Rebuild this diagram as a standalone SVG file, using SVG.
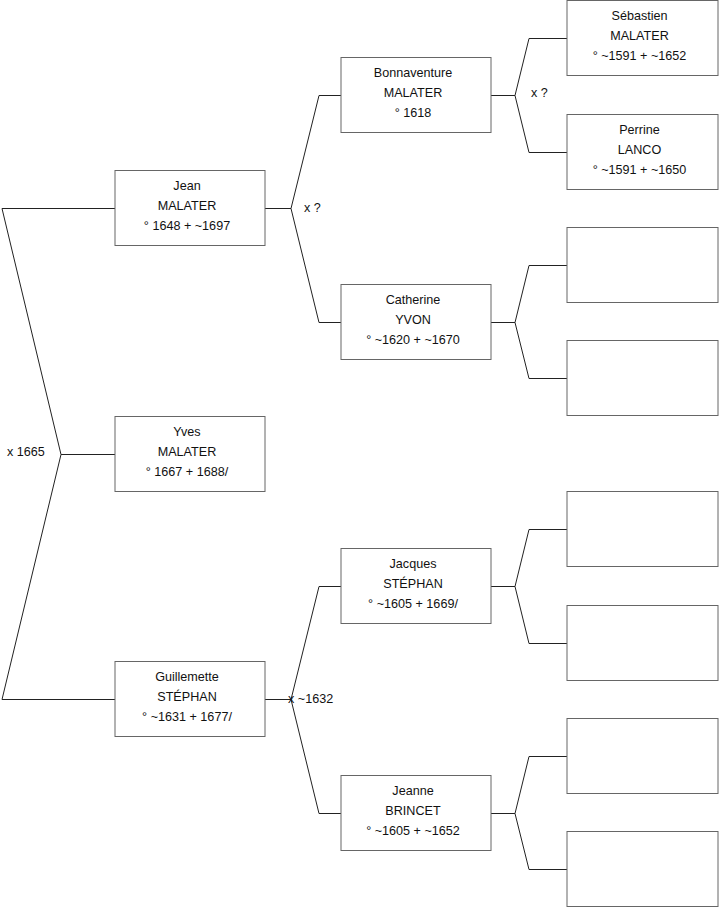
<svg xmlns="http://www.w3.org/2000/svg" width="719" height="908" viewBox="0 0 719 908">
<style>
.box{fill:#fff;stroke:#666;stroke-width:1}
.t{font-family:"Liberation Sans",Arial,sans-serif;font-size:12.6px;fill:#111;text-anchor:middle}
.l{font-family:"Liberation Sans",Arial,sans-serif;font-size:12.6px;fill:#111}
.c{fill:none;stroke:#222;stroke-width:1}
</style>
<rect width="719" height="908" fill="#fff"/>
<g id="connectors">
<polyline class="c" points="115,208.5 2,208.5 61,454.5 2,699.5 115,699.5"/>
<line class="c" x1="61" y1="454.5" x2="115" y2="454.5"/>
<polyline class="c" points="341,95.5 319,95.5 291,208.5 319,322.5 341,322.5"/>
<line class="c" x1="265" y1="208.5" x2="291" y2="208.5"/>
<polyline class="c" points="341,586.5 319,586.5 291,699.5 319,813.5 341,813.5"/>
<line class="c" x1="265" y1="699.5" x2="291" y2="699.5"/>
<polyline class="c" points="567,38.5 529,38.5 515,95.5 529,152.5 567,152.5"/>
<line class="c" x1="491" y1="95.5" x2="515" y2="95.5"/>
<polyline class="c" points="567,265.5 529,265.5 515,322.5 529,378.5 567,378.5"/>
<line class="c" x1="491" y1="322.5" x2="515" y2="322.5"/>
<polyline class="c" points="567,529.5 529,529.5 515,586.5 529,643.5 567,643.5"/>
<line class="c" x1="491" y1="586.5" x2="515" y2="586.5"/>
<polyline class="c" points="567,756.5 529,756.5 515,813.5 529,869.5 567,869.5"/>
<line class="c" x1="491" y1="813.5" x2="515" y2="813.5"/>
<text class="l" x="7" y="456">x 1665</text>
<text class="l" x="304" y="212">x ?</text>
<text class="l" x="531" y="97">x ?</text>
<text class="l" x="288" y="703">x ~1632</text>
</g>
<g id="jean"><rect class="box" x="115" y="170.5" width="150" height="75"/>
<text class="t" x="187" y="190">Jean</text><text class="t" x="187" y="210">MALATER</text><text class="t" x="187" y="230">° 1648 + ~1697</text></g>
<g id="yves"><rect class="box" x="115" y="416.5" width="150" height="75"/>
<text class="t" x="187" y="436">Yves</text><text class="t" x="187" y="456">MALATER</text><text class="t" x="187" y="476">° 1667 + 1688/</text></g>
<g id="guillemette"><rect class="box" x="115" y="661.5" width="150" height="75"/>
<text class="t" x="187" y="681">Guillemette</text><text class="t" x="187" y="701">STÉPHAN</text><text class="t" x="187" y="721">° ~1631 + 1677/</text></g>
<g id="bonnaventure"><rect class="box" x="341" y="57.5" width="150" height="75"/>
<text class="t" x="413" y="77">Bonnaventure</text><text class="t" x="413" y="97">MALATER</text><text class="t" x="413" y="117">° 1618</text></g>
<g id="catherine"><rect class="box" x="341" y="284.5" width="150" height="75"/>
<text class="t" x="413" y="304">Catherine</text><text class="t" x="413" y="324">YVON</text><text class="t" x="413" y="344">° ~1620 + ~1670</text></g>
<g id="jacques"><rect class="box" x="341" y="548.5" width="150" height="75"/>
<text class="t" x="413" y="568">Jacques</text><text class="t" x="413" y="588">STÉPHAN</text><text class="t" x="413" y="608">° ~1605 + 1669/</text></g>
<g id="jeanne"><rect class="box" x="341" y="775.5" width="150" height="75"/>
<text class="t" x="413" y="795">Jeanne</text><text class="t" x="413" y="815">BRINCET</text><text class="t" x="413" y="835">° ~1605 + ~1652</text></g>
<g id="sebastien"><rect class="box" x="567" y="0.5" width="151" height="75"/>
<text class="t" x="639.5" y="20">Sébastien</text><text class="t" x="639.5" y="40">MALATER</text><text class="t" x="639.5" y="60">° ~1591 + ~1652</text></g>
<g id="perrine"><rect class="box" x="567" y="114.5" width="151" height="75"/>
<text class="t" x="639.5" y="134">Perrine</text><text class="t" x="639.5" y="154">LANCO</text><text class="t" x="639.5" y="174">° ~1591 + ~1650</text></g>
<g id="empty1"><rect class="box" x="567" y="227.5" width="151" height="75"/></g>
<g id="empty2"><rect class="box" x="567" y="340.5" width="151" height="75"/></g>
<g id="empty3"><rect class="box" x="567" y="491.5" width="151" height="75"/></g>
<g id="empty4"><rect class="box" x="567" y="605.5" width="151" height="75"/></g>
<g id="empty5"><rect class="box" x="567" y="718.5" width="151" height="75"/></g>
<g id="empty6"><rect class="box" x="567" y="831.5" width="151" height="75"/></g>
</svg>
